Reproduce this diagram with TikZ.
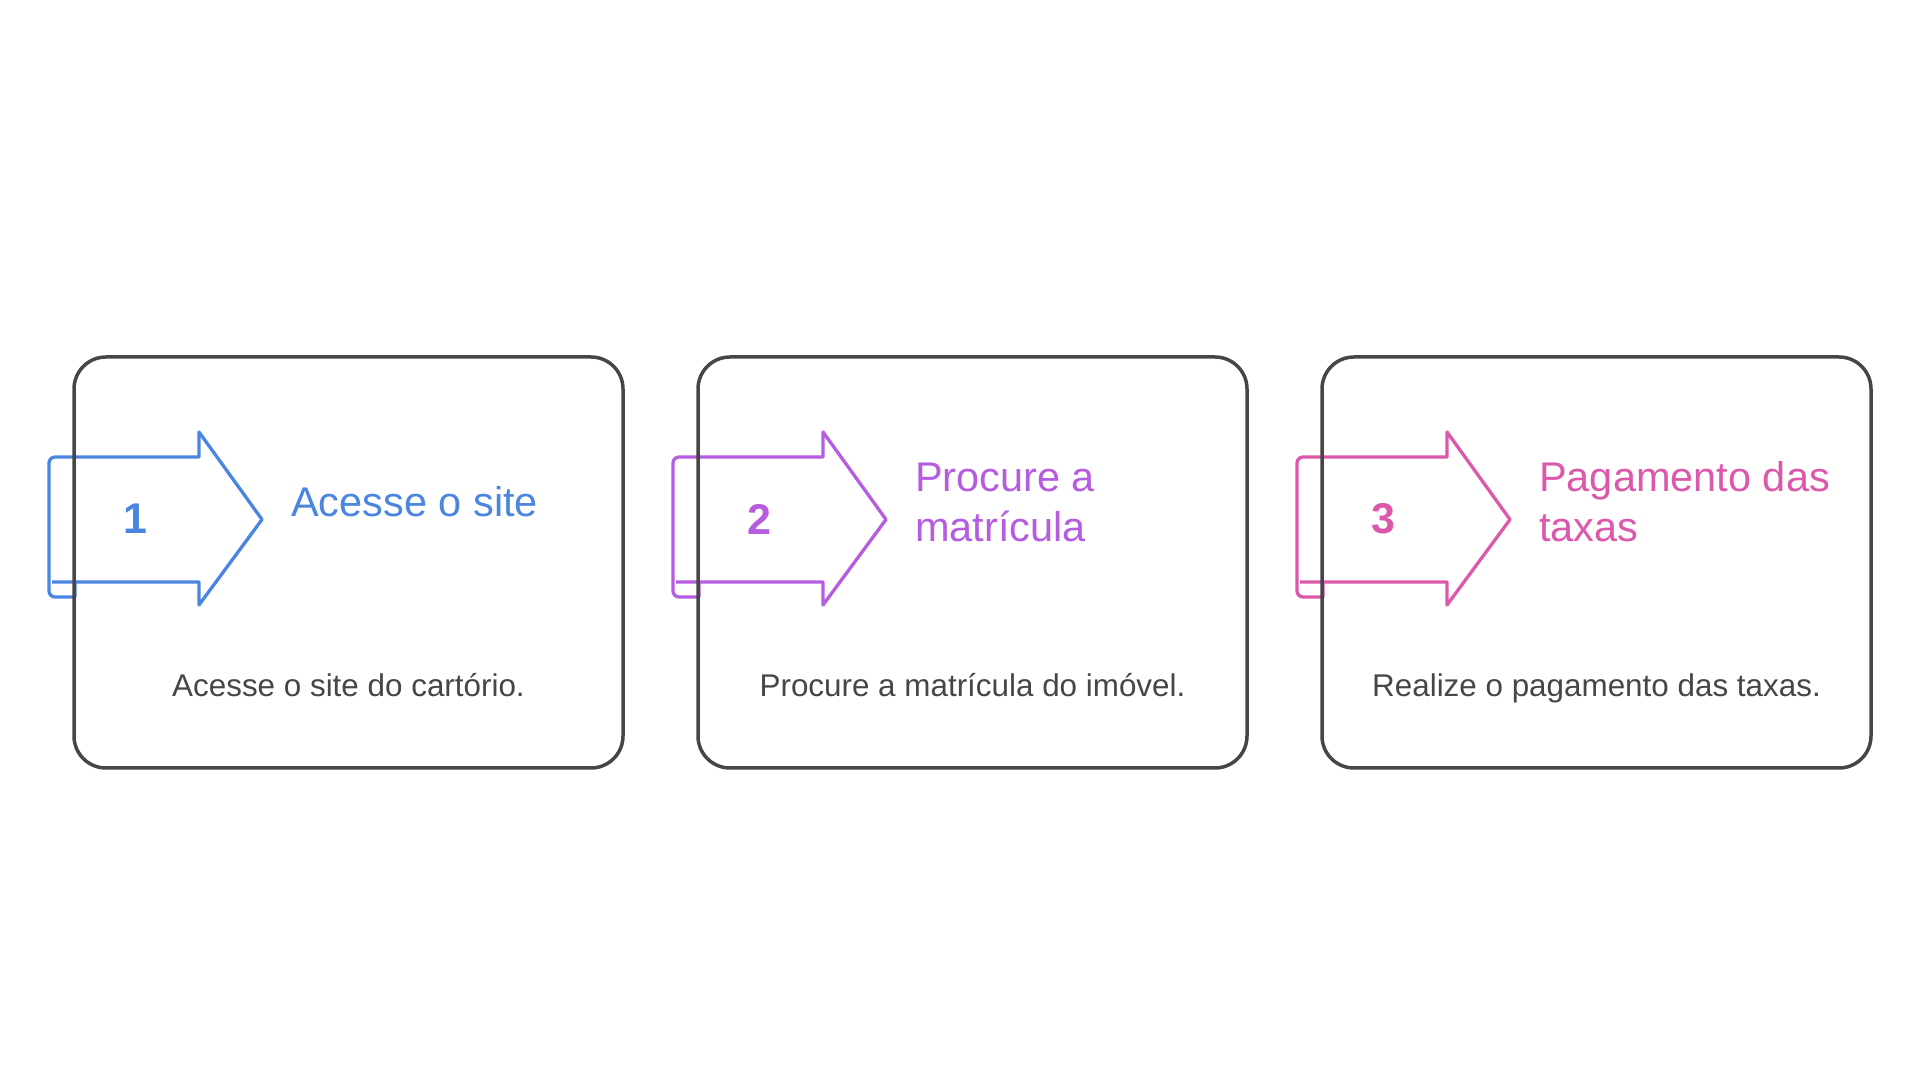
\documentclass[tikz,border=0pt]{standalone}
\usepackage{fontspec}
\setmainfont{Liberation Sans}
\definecolor{stepblue}{RGB}{74,134,224}
\definecolor{steppurple}{RGB}{182,92,222}
\definecolor{steppink}{RGB}{220,88,170}
\definecolor{cardgray}{RGB}{70,70,70}
\begin{document}
\begin{tikzpicture}[x=1pt,y=1pt,
    card/.style={draw=cardgray, line width=3.5pt, rounded corners=32pt,
      minimum width=549pt, minimum height=411pt, inner sep=0pt},
    banner/.style={line width=3.3pt, line join=round},
    num/.style={font=\bfseries\fontsize{43}{50}\selectfont},
    title/.style={anchor=west, align=left, inner sep=0pt,
      font=\fontsize{41.5}{50}\selectfont},
    desc/.style={anchor=base, inner sep=0pt, text=cardgray,
      font=\fontsize{31.4}{36}\selectfont}]
  \fill[white] (0,0) rectangle (1920,1080);
  \useasboundingbox (0,0) rectangle (1920,1080);

  % step 1
  \begin{scope}[xshift=74pt]
    \draw[banner, stepblue] (1,498) -- (1,483) [rounded corners=6pt] -- (-25,483)
      -- (-25,623) [sharp corners] -- (125,623) -- (125,648) -- (188,560.5)
      -- (125,475) -- (125,498) -- (-22,498);
    \node[card] (card1) at (274.5,517.5) {};
    \node[num, text=stepblue] (num1) at (61,561) {1};
    \node[title, text=stepblue] (title1) at (217,578) {Acesse o site};
    \node[desc] (desc1) at (274.5,383) {Acesse o site do cartório.};
  \end{scope}

  % step 2
  \begin{scope}[xshift=698pt]
    \draw[banner, steppurple] (1,498) -- (1,483) [rounded corners=6pt] -- (-25,483)
      -- (-25,623) [sharp corners] -- (125,623) -- (125,648) -- (188,560.5)
      -- (125,475) -- (125,498) -- (-22,498);
    \node[card] (card2) at (274.5,517.5) {};
    \node[num, text=steppurple] (num2) at (61,561) {2};
    \node[title, text=steppurple] (title2) at (217,578) {Procure a\\matrícula};
    \node[desc] (desc2) at (274.5,383) {Procure a matrícula do imóvel.};
  \end{scope}

  % step 3
  \begin{scope}[xshift=1322pt]
    \draw[banner, steppink] (1,498) -- (1,483) [rounded corners=6pt] -- (-25,483)
      -- (-25,623) [sharp corners] -- (125,623) -- (125,648) -- (188,560.5)
      -- (125,475) -- (125,498) -- (-22,498);
    \node[card] (card3) at (274.5,517.5) {};
    \node[num, text=steppink] (num3) at (61,561) {3};
    \node[title, text=steppink] (title3) at (217,578) {Pagamento das\\taxas};
    \node[desc] (desc3) at (274.5,383) {Realize o pagamento das taxas.};
  \end{scope}
\end{tikzpicture}
\end{document}
